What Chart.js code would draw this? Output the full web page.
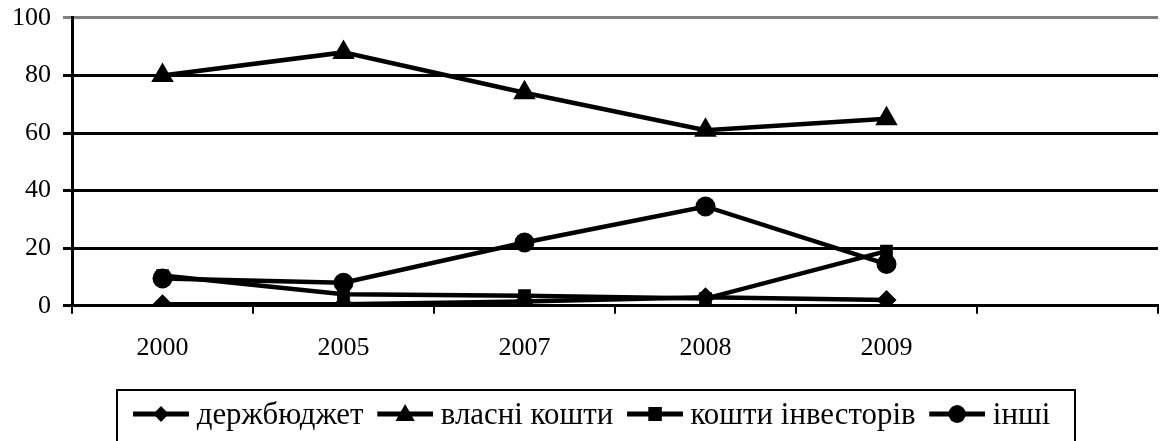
<!DOCTYPE html>
<html>
<head>
<meta charset="utf-8">
<script src="https://cdn.jsdelivr.net/npm/chart.js@4.4.1/dist/chart.umd.min.js"></script>
<style>
  html, body { margin: 0; padding: 0; background: #fff; }
  #wrap { position: relative; width: 1171px; height: 441px; overflow: hidden; }
  #chart { position: absolute; left: 0; top: 0; }
  #legend {
    position: absolute; left: 116px; top: 389px; width: 960px; height: 70px;
    border: 2px solid #000; box-sizing: border-box;
  }
  #legend .inner {
    position: absolute; left: 15px; top: 4px;
    transform: scaleX(0.965); transform-origin: 0 0;
    font-family: "Liberation Serif", "DejaVu Serif", serif; font-size: 32px; color: #000;
    display: flex; align-items: center; white-space: nowrap;
  }
  .item { display: flex; align-items: center; margin-right: 14px; }
  .item svg { margin-right: 8px; }
</style>
</head>
<body>
<div id="wrap">
  <canvas id="chart" width="1171" height="441"></canvas>
  <div id="legend"><div class="inner"></div></div>
</div>
<script>
// data
const years = ['2000', '2005', '2007', '2008', '2009', ''];
const budget = [0.5, 0.5, 1.5, 3, 2];
const ownFunds = [80, 88, 74, 61, 65];
const investors = [10.5, 4, 3.5, 2.5, 19];
const other = [9.5, 8, 22, 34.5, 14.5];
const yTicks = [0, 20, 40, 60, 80, 100];

const seriesNames = ['держбюджет', 'власні кошти', 'кошти інвесторів', 'інші'];
const styles = ['rectRot', 'triangle', 'rect', 'circle'];
const radii = [10, 13, 9, 10];

const font = { family: '"Liberation Serif", "DejaVu Serif", serif', size: 26 };

function ds(label, data, i) {
  return {
    label, data,
    borderColor: '#000', backgroundColor: '#000',
    borderWidth: 4.5, pointStyle: styles[i], pointRadius: radii[i],
    pointBorderWidth: 0, tension: 0
  };
}

new Chart(document.getElementById('chart'), {
  type: 'line',
  data: {
    labels: years,
    datasets: [
      ds(seriesNames[0], budget, 0),
      ds(seriesNames[1], ownFunds, 1),
      ds(seriesNames[2], investors, 2),
      ds(seriesNames[3], other, 3)
    ]
  },
  options: {
    responsive: false,
    animation: false,
    layout: { padding: { top: 0, right: 0, bottom: 58, left: 0 } },
    plugins: { legend: { display: false }, tooltip: { enabled: false } },
    scales: {
      x: {
        offset: true,
        grid: { offset: true, drawOnChartArea: false, drawTicks: true, tickLength: 8, color: '#000', lineWidth: 2 },
        border: { color: '#000', width: 3 },
        ticks: { color: '#000', font, padding: 19, maxRotation: 0 }
      },
      y: {
        min: 0, max: 100,
        afterBuildTicks: axis => { axis.ticks = yTicks.map(v => ({ value: v })); },
        grid: {
          color: ctx => ctx.tick && ctx.tick.value === 100 ? '#808080' : '#000',
          lineWidth: 3, tickLength: 9
        },
        border: { color: '#000', width: 3 },
        ticks: { color: '#000', font: { ...font, lineHeight: 0.45 }, padding: 12 }
      }
    }
  }
});

// legend: line with the marker in the middle
const markers = {
  rectRot: '<polygon points="29,4 37,12 29,20 21,12" fill="#000"/>',
  triangle: '<polygon points="29,2 39,19 19,19" fill="#000"/>',
  rect: '<rect x="22" y="5" width="14" height="14" fill="#000"/>',
  circle: '<circle cx="29" cy="12" r="9" fill="#000"/>'
};
document.querySelector('#legend .inner').innerHTML = seriesNames.map((n, i) =>
  `<div class="item"><svg width="58" height="24"><line x1="0" y1="12" x2="58" y2="12" stroke="#000" stroke-width="5"/>${markers[styles[i]]}</svg><span>${n}</span></div>`
).join('');
</script>
</body>
</html>
